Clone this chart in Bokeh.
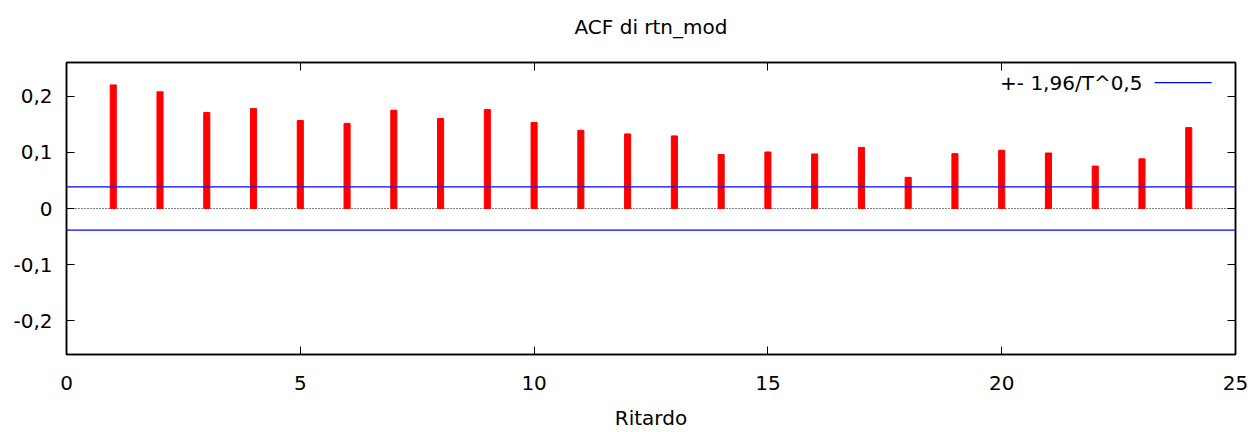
from bokeh.plotting import figure
from bokeh.models import FixedTicker, LinearAxis, Span, Range1d, Label, CustomJSTickFormatter
from bokeh.embed import file_html
from bokeh.resources import INLINE

# Data
lags = list(range(1, 25))
acf = [0.2206, 0.2083, 0.1713, 0.1783, 0.1570, 0.1519, 0.1754, 0.1607,
       0.1766, 0.1537, 0.1396, 0.1331, 0.1296, 0.0962, 0.1009, 0.0974,
       0.1091, 0.0556, 0.0979, 0.1039, 0.0991, 0.0757, 0.0886, 0.1444]
conf = 0.0387  # 1.96 / sqrt(T)
x_ticks = [0, 5, 10, 15, 20, 25]
y_ticks = [-0.2, -0.1, 0, 0.1, 0.2]
y_tick_labels = ["-0,2", "-0,1", "0", "0,1", "0,2"]
title_text = "ACF di rtn_mod"
x_label = "Ritardo"
legend_text = "+- 1,96/T^0,5"

FONT = "DejaVu Sans"
FS = "20px"

p = figure(width=1252, height=432, output_backend="svg", toolbar_location=None,
           x_range=Range1d(0, 25), y_range=Range1d(-0.2606, 0.2606),
           min_border_left=66, min_border_right=17, min_border_top=62,
           min_border_bottom=74)
p.grid.visible = False
p.background_fill_color = "white"
p.border_fill_color = "white"
p.outline_line_color = "black"
p.outline_line_width = 1.5

def style_axis(ax, labels=True):
    ax.axis_line_color = "black"
    ax.axis_line_width = 1.5
    ax.major_tick_in = 8
    ax.major_tick_out = 0
    ax.minor_tick_in = 0
    ax.minor_tick_out = 0
    ax.major_tick_line_color = "black"
    ax.major_tick_line_width = 1
    ax.major_label_text_font = FONT
    ax.major_label_text_font_size = FS
    ax.major_label_text_color = "black"
    ax.axis_label_text_font = FONT
    ax.axis_label_text_font_size = FS
    ax.axis_label_text_font_style = "normal"
    ax.axis_label_text_color = "black"
    if not labels:
        ax.formatter = CustomJSTickFormatter(code="return ''")
        ax.major_label_standoff = 0

xa = p.xaxis[0]
xa.ticker = FixedTicker(ticks=x_ticks)
style_axis(xa)
xa.major_label_standoff = 21
xa.axis_label = x_label
xa.axis_label_standoff = 13

ya = p.yaxis[0]
ya.ticker = FixedTicker(ticks=y_ticks)
ya.major_label_overrides = {t: l for t, l in zip(y_ticks, y_tick_labels)}
style_axis(ya)
ya.major_label_standoff = 14

# top axis carries the chart title as its label
top = LinearAxis(ticker=FixedTicker(ticks=x_ticks))
style_axis(top, labels=False)
top.axis_label = title_text
top.axis_label_standoff = 24
p.add_layout(top, "above")
right = LinearAxis(ticker=FixedTicker(ticks=y_ticks))
style_axis(right, labels=False)
p.add_layout(right, "right")

# zero line (dotted, under bars)
p.add_layout(Span(location=0, dimension="width", line_color="black",
                  line_dash="1 2", line_width=1, level="underlay"))

# bars
p.vbar(x=lags, top=acf, bottom=0, width=0.13, color="#ff0000")

# confidence bands
for s in (conf, -conf):
    p.add_layout(Span(location=s, dimension="width", line_color="#0000ff",
                      line_width=1.2))

# legend (text then sample line, like the original)
leg_y = 0.2246
p.segment(x0=[23.27], y0=[leg_y], x1=[24.49], y1=[leg_y], line_color="#0000ff",
          line_width=1.2)
p.add_layout(Label(x=23.01, y=leg_y, text=legend_text, text_font=FONT,
                   text_font_size=FS, text_align="right", text_baseline="middle",
                   text_color="black"))

open("out.html", "w").write(file_html(p, INLINE))
